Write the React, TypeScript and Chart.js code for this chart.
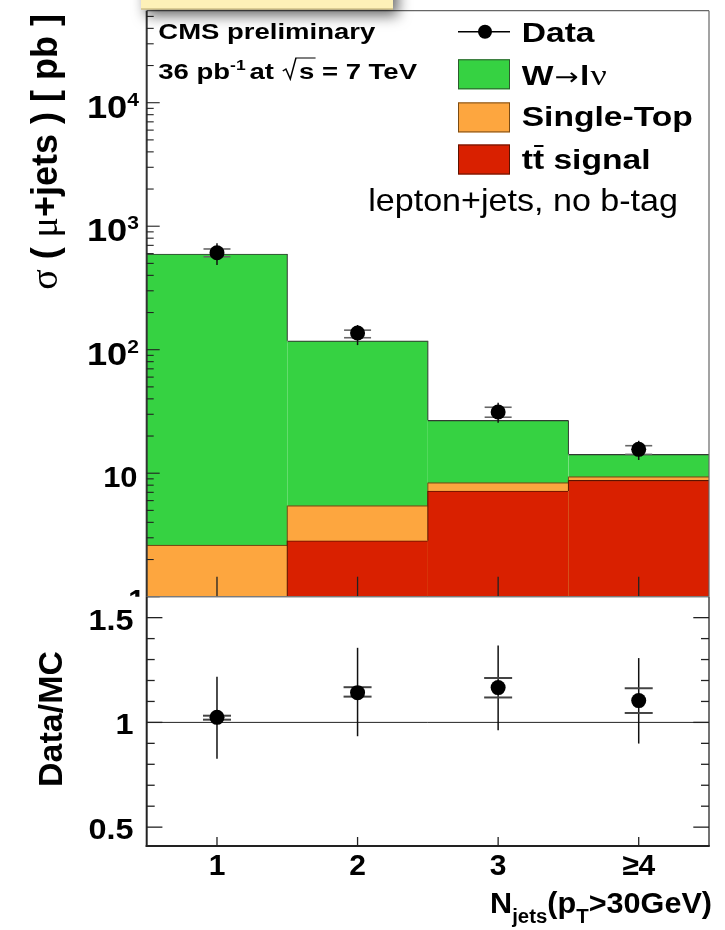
import React, { useEffect, useRef } from "react";
import { Chart, registerables } from "chart.js";
Chart.register(...registerables);

// ---------------- data ----------------
const categories = ["1", "2", "3", "≥4"];
const wjets = [593.4, 112.5, 18.4, 4.83];
const singleTop = [2.32, 2.62, 1.2, 0.61];
const ttbar = [0.3, 2.84, 7.18, 8.76];
const dataXsec = [610, 136.5, 31.3, 15.6];
const dataErrLo = [485, 109, 25.6, 12.8];
const dataErrHi = [727, 158.5, 37.2, 18.3];
const dataCapLo = [566, 125, 28.4, 14.2];
const dataCapHi = [654, 144, 34.2, 16.7];
const ratio = [1.024, 1.142, 1.166, 1.104];
const ratioErrLo = [0.826, 0.934, 0.962, 0.899];
const ratioErrHi = [1.218, 1.356, 1.367, 1.307];
const ratioCapLo = [1.013, 1.123, 1.119, 1.045];
const ratioCapHi = [1.032, 1.168, 1.212, 1.163];
const logTickValues = [1, 10, 100, 1000, 10000];
const logTickBase = ["1", "10", "10", "10", "10"];
const logTickExp = ["", "", "2", "3", "4"];
const ratioTickValues = [0.5, 1, 1.5];
const ratioTickLabels = ["0.5", "1", "1.5"];

const LOG_MIN = 1;
const LOG_MAX = 55600;
const R_MIN = 0.41;
const R_MAX = 1.6;

const GREEN = "#36D242";
const ORANGE = "#FDA63F";
const RED = "#D92000";

const SANS = '"Liberation Sans", Arial, Helvetica, sans-serif';
const SERIF = '"Liberation Serif", "Times New Roman", serif';
const B = (px: number) => `bold ${px}px ${SANS}`;

type Seg = { text: string; font: string; dy?: number; gap?: number; draw?: (ctx: CanvasRenderingContext2D, x: number, w: number) => void };

function richWidth(ctx: CanvasRenderingContext2D, segs: Seg[]) {
  let w = 0;
  for (const s of segs) {
    ctx.font = s.font;
    w += ctx.measureText(s.text).width + (s.gap || 0);
  }
  return w;
}

function drawRich(ctx: CanvasRenderingContext2D, segs: Seg[], x: number, y: number, align: string, sx = 1) {
  const w = richWidth(ctx, segs) * sx;
  const start = align === "right" ? x - w : align === "center" ? x - w / 2 : x;
  ctx.save();
  ctx.translate(start, y);
  ctx.scale(sx, 1);
  ctx.textAlign = "left";
  ctx.textBaseline = "alphabetic";
  let cx = 0;
  for (const s of segs) {
    ctx.font = s.font;
    const sw = ctx.measureText(s.text).width;
    if (s.text) ctx.fillText(s.text, cx, s.dy || 0);
    if (s.draw) s.draw(ctx, cx, sw);
    cx += sw + (s.gap || 0);
  }
  ctx.restore();
}

function line(ctx: CanvasRenderingContext2D, x1: number, y1: number, x2: number, y2: number) {
  ctx.beginPath();
  ctx.moveTo(x1, y1);
  ctx.lineTo(x2, y2);
  ctx.stroke();
}

const totals = wjets.map((w, i) => w + singleTop[i] + ttbar[i]);
const stTop = singleTop.map((s, i) => s + ttbar[i]);

const topPlugin = {
  id: "topDecor",
  afterDatasetDraw(chart: any, args: any) {
    const ds = chart.data.datasets[args.index];
    const ctx: CanvasRenderingContext2D = chart.ctx;
    const xs = chart.scales.x;
    const ys = chart.scales.y;
    const area = chart.chartArea;
    const cy = (v: number) => Math.min(area.bottom, ys.getPixelForValue(v));
    if (ds.type !== "line") {
      ctx.save();
      ctx.strokeStyle = ds.borderColor;
      ctx.lineWidth = 1;
      const vals = ds.data;
      for (let i = 0; i < vals.length - 1; i++) {
        const xb = (xs.getPixelForValue(i) + xs.getPixelForValue(i + 1)) / 2;
        line(ctx, xb, cy(vals[i]), xb, cy(vals[i + 1]));
      }
      ctx.restore();
    }
    if (args.index === 2) {
      ctx.save();
      for (let i = 0; i < dataXsec.length; i++) {
        const x = xs.getPixelForValue(i);
        ctx.strokeStyle = "#111";
        ctx.lineWidth = 1.5;
        line(ctx, x, ys.getPixelForValue(dataErrHi[i]), x, ys.getPixelForValue(dataErrLo[i]));
        ctx.strokeStyle = "#666";
        ctx.lineWidth = 1.6;
        for (const v of [dataCapLo[i], dataCapHi[i]]) {
          const y = ys.getPixelForValue(v);
          line(ctx, x - 13.5, y, x + 13.5, y);
        }
      }
      ctx.restore();
    }
  },
  afterDraw(chart: any) {
    const ctx: CanvasRenderingContext2D = chart.ctx;
    const xs = chart.scales.x;
    const ys = chart.scales.y;
    const a = chart.chartArea;
    ctx.save();
    // frame
    ctx.strokeStyle = "#666";
    ctx.lineWidth = 1.2;
    line(ctx, a.left, a.top, a.right, a.top);
    line(ctx, a.right, a.top, a.right, a.bottom);
    ctx.strokeStyle = "#444";
    line(ctx, a.left, a.bottom, a.right, a.bottom);
    ctx.strokeStyle = "#333";
    ctx.lineWidth = 2;
    line(ctx, a.left, a.top, a.left, a.bottom);
    // log ticks
    ctx.strokeStyle = "#222";
    ctx.lineWidth = 1.1;
    for (let d = 0; d <= 5; d++) {
      for (let m = 1; m <= 9; m++) {
        const v = m * Math.pow(10, d);
        if (v > LOG_MAX) break;
        const y = ys.getPixelForValue(v);
        line(ctx, a.left, y, a.left + (m === 1 ? 13 : 7), y);
      }
    }
    // x ticks
    ctx.lineWidth = 1.3;
    for (let i = 0; i < categories.length; i++) {
      const x = xs.getPixelForValue(i);
      line(ctx, x, a.bottom, x, a.bottom - 20);
    }
    // y labels
    ctx.fillStyle = "#000";
    for (let k = 0; k < logTickValues.length; k++) {
      const y = ys.getPixelForValue(logTickValues[k]);
      if (logTickExp[k]) {
        drawRich(ctx, [
          { text: logTickBase[k], font: B(31) },
          { text: logTickExp[k], font: B(18), dy: -12 },
        ], 139, y + 15, "right", 1.17);
      } else if (logTickBase[k] === "1") {
        ctx.save();
        ctx.beginPath();
        ctx.rect(0, 0, 725, a.bottom);
        ctx.clip();
        drawRich(ctx, [{ text: logTickBase[k], font: B(30) }], 145, y + 13, "right");
        ctx.restore();
      } else {
        drawRich(ctx, [{ text: logTickBase[k], font: B(30) }], 137.5, y + 14, "right", 1.03);
      }
    }
    // y title
    ctx.save();
    ctx.translate(57, 14);
    ctx.rotate(-Math.PI / 2);
    drawRich(ctx, [
      { text: "σ", font: `38px ${SERIF}` },
      { text: " ( ", font: B(36) },
      { text: "μ", font: `38px ${SERIF}` },
      { text: "+jets ) [ pb ]", font: B(36) },
    ], 0, 0, "right");
    ctx.restore();

    // legend
    ctx.strokeStyle = "#000";
    ctx.lineWidth = 1.5;
    line(ctx, 458, 31.7, 510, 31.7);
    ctx.beginPath();
    ctx.arc(485, 31.7, 7, 0, Math.PI * 2);
    ctx.fillStyle = "#000";
    ctx.fill();
    const boxes = [
      { y: 59.3, c: GREEN, b: "#2d5a2d" },
      { y: 102.4, c: ORANGE, b: "#7a4b14" },
      { y: 144.5, c: RED, b: "#5c1200" },
    ];
    for (const bx of boxes) {
      ctx.fillStyle = bx.c;
      ctx.fillRect(458, bx.y, 52, 30);
      ctx.strokeStyle = bx.b;
      ctx.lineWidth = 1;
      ctx.strokeRect(458.5, bx.y + 0.5, 51, 29);
    }
    ctx.fillStyle = "#000";
    const LX = 521.7;
    const SX = 1.2;
    drawRich(ctx, [{ text: "Data", font: B(28) }], LX, 42, "left", SX);
    drawRich(ctx, [
      { text: "W", font: B(28), gap: 1 },
      { text: "→", font: `24px "DejaVu Sans", sans-serif`, gap: 1 },
      { text: "l", font: B(28), gap: 1 },
      { text: "ν", font: `30px ${SERIF}` },
    ], LX, 85, "left", SX);
    drawRich(ctx, [{ text: "Single-Top", font: B(28) }], LX, 126, "left", SX);
    drawRich(ctx, [
      { text: "t", font: B(28) },
      {
        text: "t", font: B(28), draw: (c, x, w) => {
          c.save();
          c.strokeStyle = "#000";
          c.lineWidth = 2;
          line(c, x + 1, -22.5, x + w - 0.5, -22.5);
          c.restore();
        },
      },
      { text: " signal", font: B(28) },
    ], LX, 168.5, "left", SX);

    // lepton+jets text
    drawRich(ctx, [{ text: "lepton+jets, no b-tag", font: `32px ${SANS}` }], 678, 211, "right", 1.065);

    // CMS text
    drawRich(ctx, [{ text: "CMS preliminary", font: B(22) }], 158.3, 38.5, "left", 1.25);
    drawRich(ctx, [
      { text: "36 pb", font: B(22) },
      { text: "-1", font: B(14), dy: -9, gap: 3 },
      { text: "at ", font: B(22) },
      {
        text: "", font: B(22), gap: 14, draw: (c, x) => {
          c.save();
          c.font = B(22);
          const sw = c.measureText("s").width;
          c.strokeStyle = "#000";
          c.lineWidth = 1.2;
          c.beginPath();
          c.moveTo(x + 1, -8);
          c.lineTo(x + 3.5, -10);
          c.lineTo(x + 7, 0);
          c.lineTo(x + 11.5, -21);
          c.lineTo(x + 14 + sw + 1, -21);
          c.stroke();
          c.restore();
        },
      },
      { text: "s", font: B(22) },
      { text: " = 7 TeV", font: B(22) },
    ], 158.3, 79, "left", 1.25);

    // yellow title box with shadow
    ctx.save();
    ctx.shadowColor = "rgba(0,0,0,0.6)";
    ctx.shadowBlur = 14;
    ctx.shadowOffsetX = 5;
    ctx.shadowOffsetY = 6;
    ctx.fillStyle = "#FDF1B8";
    ctx.fillRect(141, -30, 252, 39.5);
    ctx.restore();
    ctx.strokeStyle = "#B8A870";
    ctx.lineWidth = 1;
    line(ctx, 141, 9, 393, 9);
    ctx.restore();
  },
};

const ratioPlugin = {
  id: "ratioDecor",
  beforeDatasetsDraw(chart: any) {
    const ctx: CanvasRenderingContext2D = chart.ctx;
    const xs = chart.scales.x;
    const ys = chart.scales.y;
    const a = chart.chartArea;
    ctx.save();
    ctx.strokeStyle = "#222";
    ctx.lineWidth = 1;
    const y1 = ys.getPixelForValue(1);
    line(ctx, a.left, y1, a.right, y1);
    for (let i = 0; i < ratio.length; i++) {
      const x = xs.getPixelForValue(i);
      ctx.strokeStyle = "#111";
      ctx.lineWidth = 1.5;
      line(ctx, x, ys.getPixelForValue(ratioErrHi[i]), x, ys.getPixelForValue(ratioErrLo[i]));
      ctx.strokeStyle = "#444";
      ctx.lineWidth = 2;
      for (const v of [ratioCapLo[i], ratioCapHi[i]]) {
        const y = ys.getPixelForValue(v);
        line(ctx, x - 14, y, x + 14, y);
      }
    }
    ctx.restore();
  },
  afterDraw(chart: any) {
    const ctx: CanvasRenderingContext2D = chart.ctx;
    const xs = chart.scales.x;
    const ys = chart.scales.y;
    const a = chart.chartArea;
    ctx.save();
    // frame
    ctx.strokeStyle = "#888";
    ctx.lineWidth = 1;
    line(ctx, a.left, a.top, a.right, a.top);
    ctx.strokeStyle = "#444";
    ctx.lineWidth = 1.5;
    line(ctx, a.right, a.top, a.right, a.bottom);
    ctx.strokeStyle = "#222";
    ctx.lineWidth = 2;
    line(ctx, a.left, a.top, a.left, a.bottom + 1);
    line(ctx, a.left - 1, a.bottom, a.right + 0.75, a.bottom);
    // y ticks
    ctx.lineWidth = 1.3;
    for (let k = 5; k <= 15; k++) {
      const v = k / 10;
      const y = ys.getPixelForValue(v);
      const len = k % 5 === 0 ? 15.7 : 8;
      line(ctx, a.left, y, a.left + len, y);
      line(ctx, a.right, y, a.right - len, y);
    }
    // x ticks
    for (let i = 0; i < categories.length; i++) {
      const x = xs.getPixelForValue(i);
      line(ctx, x, a.bottom, x, a.bottom - 9);
    }
    // labels
    ctx.fillStyle = "#000";
    for (let k = 0; k < ratioTickValues.length; k++) {
      const y = ys.getPixelForValue(ratioTickValues[k]);
      drawRich(ctx, [{ text: ratioTickLabels[k], font: B(30) }], 133.5, y + 12, "right", 1.08);
    }
    for (let i = 0; i < categories.length; i++) {
      const x = xs.getPixelForValue(i);
      drawRich(ctx, [{ text: categories[i], font: B(30) }], x, 875, "center");
    }
    // x title
    drawRich(ctx, [
      { text: "N", font: B(30) },
      { text: "jets", font: B(20), dy: 10 },
      { text: "(p", font: B(30) },
      { text: "T", font: B(20), dy: 10 },
      { text: ">30GeV)", font: B(30) },
    ], 712, 913, "right", 1.02);
    // ratio y title
    ctx.save();
    ctx.translate(62.4, 719);
    ctx.rotate(-Math.PI / 2);
    drawRich(ctx, [{ text: "Data/MC", font: B(34) }], 0, 0, "center");
    ctx.restore();
    ctx.restore();
  },
};

function topConfig(): any {
  const barCommon = { grouped: false, categoryPercentage: 1, barPercentage: 1, borderSkipped: "bottom" as const, borderWidth: { top: 1.2, left: 0, right: 0, bottom: 0 } };
  return {
    type: "bar",
    data: {
      labels: categories,
      datasets: [
        { label: "W→lν", data: totals, backgroundColor: GREEN, borderColor: "#333a33", order: 3, ...barCommon },
        { label: "Single-Top", data: stTop, backgroundColor: ORANGE, borderColor: "#7a4b14", order: 2, ...barCommon },
        { label: "tt signal", data: ttbar, backgroundColor: RED, borderColor: "#5c1200", order: 1, ...barCommon },
        {
          type: "line", label: "Data", data: dataXsec, showLine: false, order: 0,
          pointRadius: 7.5, pointBackgroundColor: "#000", pointBorderColor: "#000", pointBorderWidth: 0,
          borderColor: "#000", backgroundColor: "#000",
        },
      ],
    },
    options: {
      responsive: false,
      animation: false,
      devicePixelRatio: 1,
      events: [],
      layout: { padding: { left: 146.7, right: 16, top: 10.7, bottom: 333.3 } },
      plugins: { legend: { display: false }, tooltip: { enabled: false }, title: { display: false } },
      scales: {
        x: { display: false, offset: true },
        y: { type: "logarithmic", display: false, min: LOG_MIN, max: LOG_MAX },
      },
    },
    plugins: [topPlugin],
  };
}

function ratioConfig(): any {
  return {
    type: "line",
    data: {
      labels: categories,
      datasets: [
        {
          label: "Data/MC", data: ratio, showLine: false,
          pointRadius: 7.5, pointBackgroundColor: "#000", pointBorderColor: "#000", pointBorderWidth: 0,
          borderColor: "#000", backgroundColor: "#000",
        },
      ],
    },
    options: {
      responsive: false,
      animation: false,
      devicePixelRatio: 1,
      events: [],
      layout: { padding: { left: 146.7, right: 16, top: 596.7, bottom: 84 } },
      plugins: { legend: { display: false }, tooltip: { enabled: false }, title: { display: false } },
      scales: {
        x: { display: false, offset: true },
        y: { type: "linear", display: false, min: R_MIN, max: R_MAX },
      },
    },
    plugins: [ratioPlugin],
  };
}

export default function App() {
  const topRef = useRef<HTMLCanvasElement>(null);
  const botRef = useRef<HTMLCanvasElement>(null);
  useEffect(() => {
    const c1 = new Chart(topRef.current as HTMLCanvasElement, topConfig());
    const c2 = new Chart(botRef.current as HTMLCanvasElement, ratioConfig());
    return () => {
      c1.destroy();
      c2.destroy();
    };
  }, []);
  const cs: React.CSSProperties = { position: "absolute", left: 0, top: 0, width: 725, height: 930 };
  return (
    <div style={{ position: "absolute", left: 0, top: 0, width: 725, height: 930, background: "#fff" }}>
      <canvas ref={topRef} width={725} height={930} style={cs} />
      <canvas ref={botRef} width={725} height={930} style={cs} />
    </div>
  );
}
